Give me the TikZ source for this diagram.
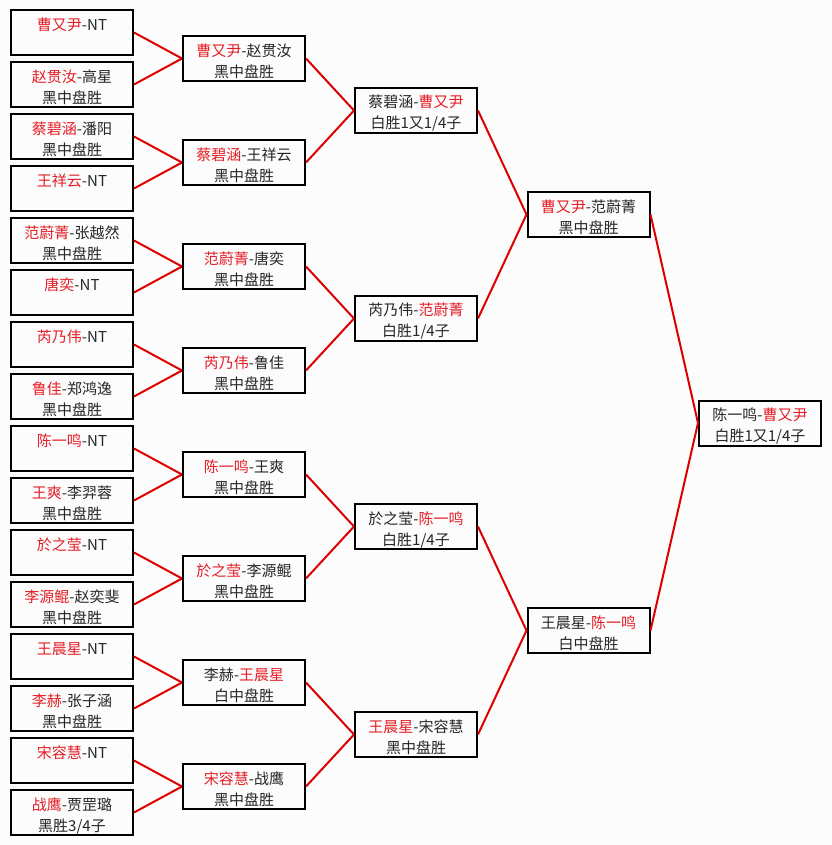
\documentclass[tikz,border=0pt]{standalone}
\usepackage{fontspec}
\setmainfont{Noto Sans CJK SC}
\definecolor{rtext}{RGB}{228,30,38}
\definecolor{rline}{RGB}{222,0,0}
\definecolor{bgc}{RGB}{252,252,252}
\newcommand\R[1]{\textcolor{rtext}{#1}}
\newcommand\bx[5]{\node[box,label={[lab]center:{#4\\#5}}] (#1) at (#2,#3) {};}
\tikzset{
  box/.style={draw=black, line width=2pt, minimum width=122pt, minimum height=45pt, inner sep=0pt},
  lab/.style={align=center, inner sep=0pt, yshift=-3pt, text=black!85, font={\fontsize{15pt}{21pt}\selectfont}},
  conn/.style={draw=rline, line width=2pt}
}
\begin{document}
\begin{tikzpicture}[x=1pt,y=-1pt]
\fill[bgc] (0,0) rectangle (831,845);
\useasboundingbox (0,0) rectangle (831,845);
% leaves
\bx{l0}{72}{32.5}{\R{曹又尹}-NT}{\phantom{黑}}
\bx{l1}{72}{84.5}{\R{赵贯汝}-高星}{黑中盘胜}
\bx{l2}{72}{136.5}{\R{蔡碧涵}-潘阳}{黑中盘胜}
\bx{l3}{72}{188.5}{\R{王祥云}-NT}{\phantom{黑}}
\bx{l4}{72}{240.5}{\R{范蔚菁}-张越然}{黑中盘胜}
\bx{l5}{72}{292.5}{\R{唐奕}-NT}{\phantom{黑}}
\bx{l6}{72}{344.5}{\R{芮乃伟}-NT}{\phantom{黑}}
\bx{l7}{72}{396.5}{\R{鲁佳}-郑鸿逸}{黑中盘胜}
\bx{l8}{72}{448.5}{\R{陈一鸣}-NT}{\phantom{黑}}
\bx{l9}{72}{500.5}{\R{王爽}-李羿蓉}{黑中盘胜}
\bx{l10}{72}{552.5}{\R{於之莹}-NT}{\phantom{黑}}
\bx{l11}{72}{604.5}{\R{李源鲲}-赵奕斐}{黑中盘胜}
\bx{l12}{72}{656.5}{\R{王晨星}-NT}{\phantom{黑}}
\bx{l13}{72}{708.5}{\R{李赫}-张子涵}{黑中盘胜}
\bx{l14}{72}{760.5}{\R{宋容慧}-NT}{\phantom{黑}}
\bx{l15}{72}{812.5}{\R{战鹰}-贾罡璐}{黑胜3/4子}
% round 2
\bx{a0}{244}{58.5}{\R{曹又尹}-赵贯汝}{黑中盘胜}
\bx{a1}{244}{162.5}{\R{蔡碧涵}-王祥云}{黑中盘胜}
\bx{a2}{244}{266.5}{\R{范蔚菁}-唐奕}{黑中盘胜}
\bx{a3}{244}{370.5}{\R{芮乃伟}-鲁佳}{黑中盘胜}
\bx{a4}{244}{474.5}{\R{陈一鸣}-王爽}{黑中盘胜}
\bx{a5}{244}{578.5}{\R{於之莹}-李源鲲}{黑中盘胜}
\bx{a6}{244}{682.5}{李赫-\R{王晨星}}{白中盘胜}
\bx{a7}{244}{786.5}{\R{宋容慧}-战鹰}{黑中盘胜}
% round 3
\bx{b0}{416}{110.5}{蔡碧涵-\R{曹又尹}}{白胜1又1/4子}
\bx{b1}{416}{318.5}{芮乃伟-\R{范蔚菁}}{白胜1/4子}
\bx{b2}{416}{526.5}{於之莹-\R{陈一鸣}}{白胜1/4子}
\bx{b3}{416}{734.5}{\R{王晨星}-宋容慧}{黑中盘胜}
% round 4
\bx{c0}{588.5}{214.5}{\R{曹又尹}-范蔚菁}{黑中盘胜}
\bx{c1}{588.5}{630.5}{王晨星-\R{陈一鸣}}{白中盘胜}
% final
\bx{f}{760}{423}{陈一鸣-\R{曹又尹}}{白胜1又1/4子}
% connectors
\foreach \c/\p in {l0/a0,l1/a0,l2/a1,l3/a1,l4/a2,l5/a2,l6/a3,l7/a3,l8/a4,l9/a4,l10/a5,l11/a5,l12/a6,l13/a6,l14/a7,l15/a7,
  a0/b0,a1/b0,a2/b1,a3/b1,a4/b2,a5/b2,a6/b3,a7/b3,b0/c0,b1/c0,b2/c1,b3/c1,c0/f,c1/f}
  \draw[conn] (\c.east) -- (\p.west);
\end{tikzpicture}
\end{document}
